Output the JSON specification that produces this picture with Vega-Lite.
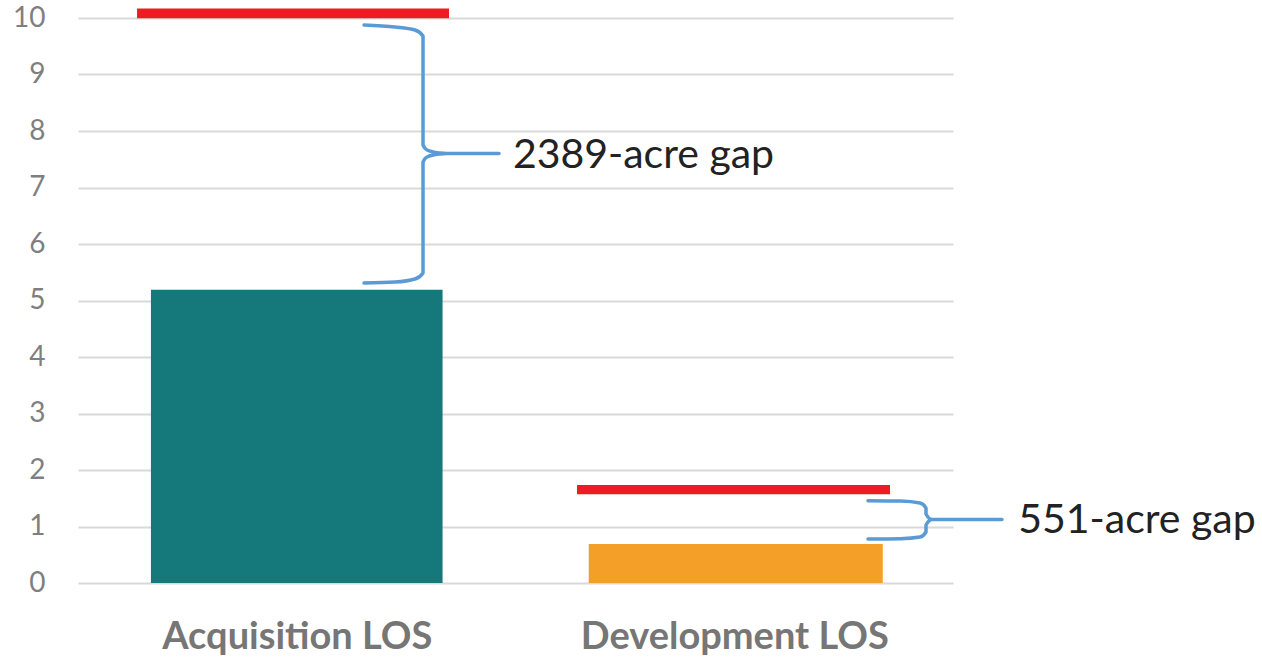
{
  "$schema": "https://vega.github.io/schema/vega-lite/v6.json",
  "width": 875,
  "height": 565,
  "autosize": {"type": "none"},
  "padding": {"left": 78, "top": 18, "right": 309, "bottom": 77},
  "background": "white",
  "config": {"view": {"stroke": null}, "font": "Lato"},
  "datasets": {
    "bars": [
      {"cat": "Acquisition LOS", "x0": 0.1667, "x1": 0.8333, "base": 0, "value": 5.19, "color": "#15797c"},
      {"cat": "Development LOS", "x0": 1.1674, "x1": 1.8395, "base": 0, "value": 0.69, "color": "#f4a028"}
    ],
    "targets": [
      {"cat": "Acquisition LOS", "x0": 0.135, "x1": 0.848, "lo": 9.996, "hi": 10.17},
      {"cat": "Development LOS", "x0": 1.1406, "x1": 1.856, "lo": 1.57, "hi": 1.735}
    ],
    "braces": [
      {"g": "a", "i": 1, "x": 0.6537, "y": 9.876},
      {"g": "a", "i": 2, "x": 0.7246, "y": 9.841},
      {"g": "a", "i": 3, "x": 0.7703, "y": 9.788},
      {"g": "a", "i": 4, "x": 0.7886, "y": 9.681},
      {"g": "a", "i": 5, "x": 0.7886, "y": 7.752},
      {"g": "a", "i": 6, "x": 0.7977, "y": 7.664},
      {"g": "a", "i": 7, "x": 0.8274, "y": 7.611},
      {"g": "a", "i": 8, "x": 0.8434, "y": 7.602},
      {"g": "a", "i": 9, "x": 0.9623, "y": 7.602},
      {"g": "a", "i": 10, "x": 0.8434, "y": 7.602},
      {"g": "a", "i": 11, "x": 0.8274, "y": 7.593},
      {"g": "a", "i": 12, "x": 0.7977, "y": 7.540},
      {"g": "a", "i": 13, "x": 0.7886, "y": 7.451},
      {"g": "a", "i": 14, "x": 0.7886, "y": 5.487},
      {"g": "a", "i": 15, "x": 0.7703, "y": 5.381},
      {"g": "a", "i": 16, "x": 0.7246, "y": 5.327},
      {"g": "a", "i": 17, "x": 0.6537, "y": 5.31},
      {"g": "d", "i": 1, "x": 1.8057, "y": 1.457},
      {"g": "d", "i": 2, "x": 1.8800, "y": 1.450},
      {"g": "d", "i": 3, "x": 1.9246, "y": 1.416},
      {"g": "d", "i": 4, "x": 1.9383, "y": 1.327},
      {"g": "d", "i": 5, "x": 1.9383, "y": 1.221},
      {"g": "d", "i": 6, "x": 1.9520, "y": 1.124},
      {"g": "d", "i": 7, "x": 2.1120, "y": 1.124},
      {"g": "d", "i": 8, "x": 1.9520, "y": 1.124},
      {"g": "d", "i": 9, "x": 1.9383, "y": 1.027},
      {"g": "d", "i": 10, "x": 1.9383, "y": 0.903},
      {"g": "d", "i": 11, "x": 1.9246, "y": 0.814},
      {"g": "d", "i": 12, "x": 1.8800, "y": 0.785},
      {"g": "d", "i": 13, "x": 1.8057, "y": 0.779}
    ],
    "labels": [
      {"x": 0.994, "y": 7.55, "text": "2389-acre gap"},
      {"x": 2.149, "y": 1.09, "text": "551-acre gap"}
    ]
  },
  "layer": [
    {
      "data": {"name": "bars"},
      "mark": {"type": "rect"},
      "encoding": {
        "x": {
          "field": "x0", "type": "quantitative",
          "scale": {"domain": [0, 2], "nice": false, "zero": false},
          "axis": {
            "values": [0.5, 1.5],
            "labelExpr": "datum.value < 1 ? 'Acquisition LOS' : 'Development LOS'",
            "title": null, "grid": false, "ticks": false, "domain": false,
            "labelFont": "Lato", "labelFontWeight": "bold", "labelFontSize": 38,
            "labelColor": "#767676", "labelPadding": 35, "labelLimit": 0, "labelOverlap": false
          }
        },
        "x2": {"field": "x1"},
        "y": {
          "field": "value", "type": "quantitative",
          "scale": {"domain": [0, 10], "nice": false},
          "axis": {
            "values": [0, 1, 2, 3, 4, 5, 6, 7, 8, 9, 10],
            "format": "d",
            "title": null, "ticks": false, "domain": false,
            "gridColor": "#d9d9d9", "gridWidth": 2,
            "labelFont": "Lato", "labelFontSize": 28, "labelColor": "#7f7f7f",
            "labelPadding": 33, "labelOverlap": false, "labelBound": false
          }
        },
        "y2": {"field": "base"},
        "color": {"field": "color", "type": "nominal", "scale": null, "legend": null}
      }
    },
    {
      "data": {"name": "targets"},
      "mark": {"type": "rect", "color": "#ed1c24"},
      "encoding": {
        "x": {"field": "x0", "type": "quantitative"},
        "x2": {"field": "x1"},
        "y": {"field": "lo", "type": "quantitative"},
        "y2": {"field": "hi"}
      }
    },
    {
      "data": {"name": "braces"},
      "mark": {"type": "line", "color": "#5b9bd5", "strokeWidth": 3.5, "interpolate": "monotone", "strokeJoin": "round", "strokeCap": "round"},
      "encoding": {
        "x": {"field": "x", "type": "quantitative"},
        "y": {"field": "y", "type": "quantitative"},
        "detail": {"field": "g", "type": "nominal"},
        "order": {"field": "i", "type": "quantitative"}
      }
    },
    {
      "data": {"name": "labels"},
      "mark": {"type": "text", "align": "left", "baseline": "middle", "font": "Lato", "fontSize": 41, "color": "#222222"},
      "encoding": {
        "x": {"field": "x", "type": "quantitative"},
        "y": {"field": "y", "type": "quantitative"},
        "text": {"field": "text", "type": "nominal"}
      }
    }
  ]
}
